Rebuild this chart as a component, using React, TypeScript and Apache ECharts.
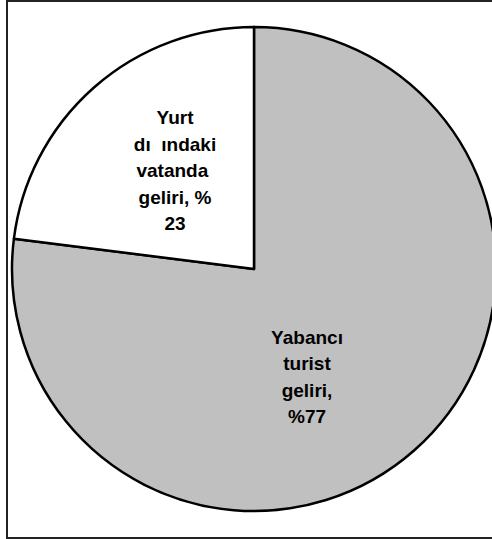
import React, { useEffect, useRef } from "react";
import * as echarts from "echarts";

const categories = ["Yabancı\nturist\ngeliri,\n%77", "Yurt\ndı  ındaki\nvatanda \ngeliri, %\n23"];
const values = [77, 23];
const colors = ["#C0C0C0", "#FFFFFF"];
const labelShift = [
  [-29, 15],
  [3, -5],
];

export default function App() {
  const ref = useRef<HTMLDivElement>(null);
  useEffect(() => {
    if (!ref.current) return;
    const chart = echarts.init(ref.current, null, { renderer: "svg" });
    chart.setOption({
      animation: false,
      backgroundColor: "#FFFFFF",
      graphic: [
        {
          type: "rect",
          z: 100,
          shape: { x: 7, y: 1, width: 495, height: 537 },
          style: { fill: "none", stroke: "#222222", lineWidth: 2 },
          silent: true,
        },
      ],
      series: [
        {
          type: "pie",
          center: [254, 269],
          radius: [0, 242],
          startAngle: 90,
          clockwise: true,
          silent: true,
          emphasis: { disabled: true },
          itemStyle: { borderColor: "#000000", borderWidth: 2.5 },
          label: {
            show: true,
            position: "inside",
            color: "#000000",
            fontFamily: "Liberation Sans",
            fontWeight: "bold",
            fontSize: 19,
            lineHeight: 26.5,
            align: "center",
            formatter: (p: any) => p.name,
          },
          labelLine: { show: false },
          labelLayout: (p: any) => ({
            dx: labelShift[p.dataIndex][0],
            dy: labelShift[p.dataIndex][1],
          }),
          data: categories.map((c, i) => ({
            name: c,
            value: values[i],
            itemStyle: { color: colors[i] },
          })),
        },
      ],
    });
    return () => chart.dispose();
  }, []);
  return (
    <div
      ref={ref}
      style={{ position: "absolute", left: 0, top: 0, width: 492, height: 539 }}
    />
  );
}
